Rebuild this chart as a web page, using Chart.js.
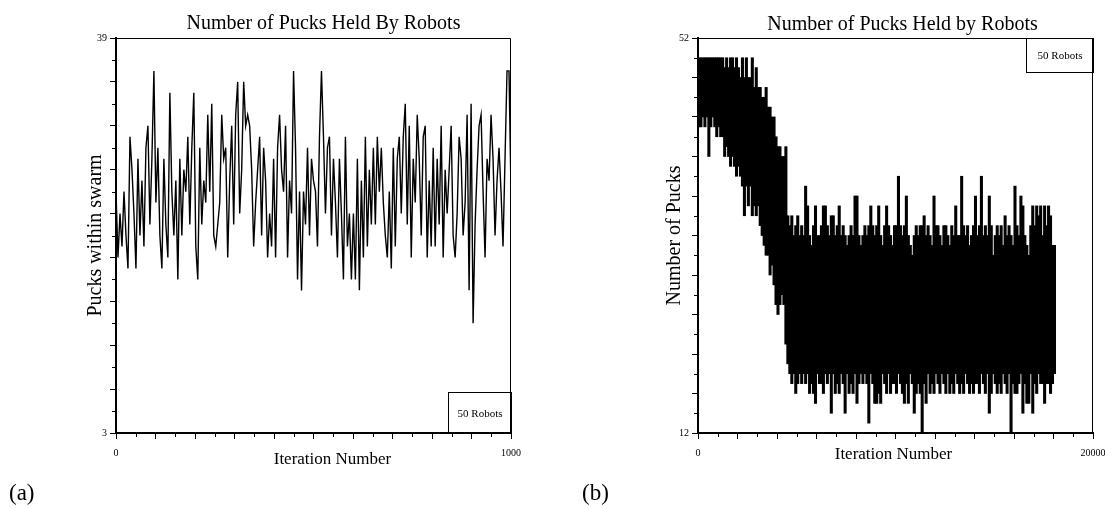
<!DOCTYPE html>
<html>
<head>
<meta charset="utf-8">
<title>Number of Pucks Held by Robots</title>
<script src="https://cdn.jsdelivr.net/npm/chart.js@4.4.1/dist/chart.umd.min.js"></script>
<style>
  html, body { margin: 0; padding: 0; background: #fff; }
  #wrap { position: relative; width: 1105px; height: 508px; overflow: hidden; }
  #wrap canvas { position: absolute; left: 0; top: 0; }
  .sub { position: absolute; top: 481px; font: 23px 'Liberation Serif', serif; line-height: 23px; color: #000; }
</style>
</head>
<body>
<div id="wrap">
  <canvas id="chart-a" width="1105" height="508"></canvas>
  <canvas id="chart-b" width="1105" height="508"></canvas>
  <div class="sub" style="left:9px">(a)</div>
  <div class="sub" style="left:582px">(b)</div>
</div>
<script>
// (a) pucks held inside the swarm, sampled evenly over 1000 iterations
const aPucks = [
  25,19,23,20,25,21,18,30,27,23, 18,28,21,26,20,29,31,22,28,36,
  24,29,21,18,28,22,19,34,25,21, 26,17,28,21,27,25,30,22,29,34,
  20,17,29,22,26,24,32,25,33,21,
  20,22,24,32,28,29,19,26,31,22, 32,35,23,27,35,31,32,31,27,20,
  24,27,30,21,29,26,19,23,20,28, 19,29,32,27,25,31,19,26,23,36,
  29,17,25,16,25,22,29,21,28,26,
  25,20,30,36,30,23,29,30,21,28, 24,19,28,23,17,30,20,23,17,23,
  17,28,16,26,19,30,20,27,22,29, 22,30,25,29,24,21,19,25,18,29,
  20,28,30,23,30,33,22,31,19,28,
  24,32,28,21,30,31,19,26,20,29, 20,28,22,31,19,27,23,27,31,21,
  19,23,30,28,21,24,32,16,33,13, 22,27,31,32,25,19,28,26,32,28,
  21,26,29,25,20,28,36,36,25
];
const aXRange = [0, 1000];
const aYRange = [3, 39];
const aXTickLabels = ['0', '1000'];
const aYTickLabels = ['3', '39'];

// (b) 20000-iteration run, kept as the lowest and highest count in each 100-iteration bin
const bBinWidth = 100;
const bPucksMax = [
  50,50,50,50,50,50,50,50,50,50,50,50,50,
  49,50,49,50,50,49,50,49,
  48,50,48,50,48,48,50,
  47,49,47,47, 46,46,47, 45,45,44, 44,42,41, 41,40,40,41,
  34,33,34,32,33,34,32,33,32,37,
  35,32,31,33,35,32,32,33,35,35,
  33,32,34,34,32,33,35,32,33,32,
  31,32,33,32,36,36,32,31,32,33,
  32,33,35,33,32,33,35,32,31,33,
  35,33,32,31,33,33,38,33,32,33,
  36,32,31,30,32,33,32,33,33,34,
  32,33,32,31,36,33,33,32,31,33,
  33,32,31,33,32,35,32,32,38,33,
  32,33,31,32,33,36,32,33,38,32,
  33,32,36,33,30,32,33,32,33,31,
  34,32,33,32,31,37,33,32,36,35,
  32,31,30,33,35,33,35,34,35,32,
  35,33,35,34,31,31
];
const bPucksMin = [
  43,43,44,43,44,40,
  43,44,43,42,43,42,
  42,40,41,40,39,40,39,38,39,
  38,37,34,37,35,37,34,
  35,34,35,33, 32,31,30, 30,28,29, 27,25,24, 25,26,25,21,
  19,18,17,18,16,17,18,17,18,17,
  18,16,17,16,15,18,17,17,16,18,
  17,18,14,18,16,17,16,18,17,14,
  18,16,17,16,18,15,17,18,17,18,
  17,13,18,17,15,15,16,15,18,17,
  16,18,16,17,17,16,18,17,16,15,
  17,15,18,17,14,16,17,16,12,17,
  15,18,16,17,16,18,17,16,18,17,
  16,18,16,17,16,18,17,16,17,16,
  18,17,16,17,16,17,17,16,18,17,
  16,18,14,16,18,17,16,17,16,18,
  17,16,18,12,17,16,16,17,18,14,
  17,15,15,18,14,17,16,18,17,17,
  15,17,17,16,17,18
];
const bXRange = [0, 20000];
const bYRange = [12, 52];
const bXTickLabels = ['0', '20000'];
const bYTickLabels = ['12', '52'];

const SERIF = "'Liberation Serif', 'Times New Roman', serif";
Chart.defaults.font.family = SERIF;
Chart.defaults.color = '#000';
Chart.defaults.animation = false;

// one tick per step from min to max; even ones get the long mark
function fixedTicks(step) {
  return scale => {
    const ticks = [];
    for (let v = scale.min; v <= scale.max + 1e-9; v += step) ticks.push({ value: v });
    scale.ticks = ticks;
  };
}

// only the two end ticks carry a number
function endLabels(labels) {
  return function (value) {
    if (value === this.min) return labels[0];
    if (value === this.max) return labels[1];
    return '';
  };
}

function axis(pos, range, step, labels, extra) {
  return Object.assign({
    type: 'linear',
    position: pos,
    min: range[0],
    max: range[1],
    offset: false,
    afterBuildTicks: fixedTicks(step),
    grid: {
      offset: false,
      drawOnChartArea: false,
      tickLength: 6,
      tickWidth: 1,
      tickColor: ctx => (ctx.index % 2 ? 'rgba(0,0,0,0)' : '#000')
    },
    border: { color: '#000', width: 2 },
    ticks: {
      autoSkip: false,
      maxRotation: 0,
      padding: pos === 'left' ? 3 : 8,
      font: { size: 10 },
      callback: endLabels(labels)
    }
  }, extra);
}

// fixed axis band; end labels may hang past the plot edges
function xBand(h) {
  return s => {
    s.height = h;
    s.paddingLeft = 0;
    s.paddingRight = 0;
  };
}

// closes the plot box, adds the short ticks, the boxed note and the captions
const plotFrame = {
  id: 'plotFrame',
  afterDraw(chart, args, opts) {
    const { ctx, chartArea: a, scales: { x, y } } = chart;
    ctx.save();
    ctx.strokeStyle = '#000';
    ctx.lineWidth = 1;
    ctx.beginPath();
    const top = Math.round(a.top) + 0.5;
    const right = Math.round(a.right) - 0.5;
    ctx.moveTo(a.left, top);
    ctx.lineTo(right, top);
    ctx.lineTo(right, a.bottom);
    x.ticks.forEach((t, i) => {
      if (i % 2 === 0) return;
      const px = Math.round(x.getPixelForValue(t.value)) + 0.5;
      ctx.moveTo(px, a.bottom);
      ctx.lineTo(px, a.bottom + 4);
    });
    y.ticks.forEach((t, i) => {
      if (i % 2 === 0) return;
      const py = Math.round(y.getPixelForValue(t.value)) + 0.5;
      ctx.moveTo(a.left, py);
      ctx.lineTo(a.left - 4, py);
    });
    ctx.stroke();

    const n = opts.note;
    const bx = Math.round(a.right - n.w) + 0.5;
    const by = n.corner === 'top' ? top : Math.round(a.bottom - n.h) + 0.5;
    ctx.strokeRect(bx, by, n.w, n.h);
    ctx.fillStyle = '#000';
    ctx.font = n.size + 'px ' + SERIF;
    ctx.textAlign = 'center';
    ctx.textBaseline = 'middle';
    ctx.fillText(n.text, bx + n.w / 2, by + n.h / 2 + 1);

    const mid = (a.left + a.right) / 2;
    ctx.textBaseline = 'alphabetic';
    ctx.font = opts.title.size + 'px ' + SERIF;
    ctx.fillText(opts.title.text, mid + opts.title.dx, opts.title.y);
    ctx.font = opts.xTitle.size + 'px ' + SERIF;
    ctx.fillText(opts.xTitle.text, mid + opts.xTitle.dx, opts.xTitle.y);
    ctx.restore();
  }
};

const aStep = (aXRange[1] - aXRange[0]) / (aPucks.length - 1);

new Chart(document.getElementById('chart-a'), {
  type: 'line',
  data: {
    datasets: [{
      data: aPucks.map((v, i) => ({ x: aXRange[0] + i * aStep, y: v })),
      borderColor: '#000',
      borderWidth: 1.4,
      pointRadius: 0,
      tension: 0,
      fill: false
    }]
  },
  options: {
    responsive: false,
    devicePixelRatio: 1,
    events: [],
    layout: { padding: { left: 60, top: 38, right: 594, bottom: 0 } },
    scales: {
      x: axis('bottom', aXRange, 50, aXTickLabels, { afterFit: xBand(75) }),
      y: axis('left', aYRange, 2, aYTickLabels, {
        afterFit: s => { s.width = 56; },
        title: { display: true, text: 'Pucks within swarm', font: { size: 20 }, padding: { top: 24, bottom: 0 } }
      })
    },
    plugins: {
      legend: { display: false },
      tooltip: { enabled: false },
      plotFrame: {
        title: { text: 'Number of Pucks Held By Robots', size: 20, dx: 10, y: 29 },
        xTitle: { text: 'Iteration Number', size: 17, dx: 19, y: 464 },
        note: { text: '50 Robots', size: 11, corner: 'bottom', w: 63, h: 41 }
      }
    }
  },
  plugins: [plotFrame]
});

new Chart(document.getElementById('chart-b'), {
  type: 'bar',
  data: {
    datasets: [{
      data: bPucksMax.map((hi, i) => ({ x: (i + 0.5) * bBinWidth, y: [bPucksMin[i], hi] })),
      backgroundColor: '#000',
      borderWidth: 0,
      barThickness: 2.4
    }]
  },
  options: {
    responsive: false,
    devicePixelRatio: 1,
    events: [],
    layout: { padding: { left: 640, top: 38, right: 12, bottom: 0 } },
    scales: {
      x: axis('bottom', bXRange, 1000, bXTickLabels, { afterFit: xBand(75) }),
      y: axis('left', bYRange, 2, bYTickLabels, {
        afterFit: s => { s.width = 58; },
        title: { display: true, text: 'Number of Pucks', font: { size: 20 }, padding: { top: 23, bottom: 0 } }
      })
    },
    plugins: {
      legend: { display: false },
      tooltip: { enabled: false },
      plotFrame: {
        title: { text: 'Number of Pucks Held by Robots', size: 20, dx: 7, y: 30 },
        xTitle: { text: 'Iteration Number', size: 17, dx: -2, y: 459 },
        note: { text: '50 Robots', size: 11, corner: 'top', w: 67, h: 34 }
      }
    }
  },
  plugins: [plotFrame]
});
</script>
</body>
</html>
